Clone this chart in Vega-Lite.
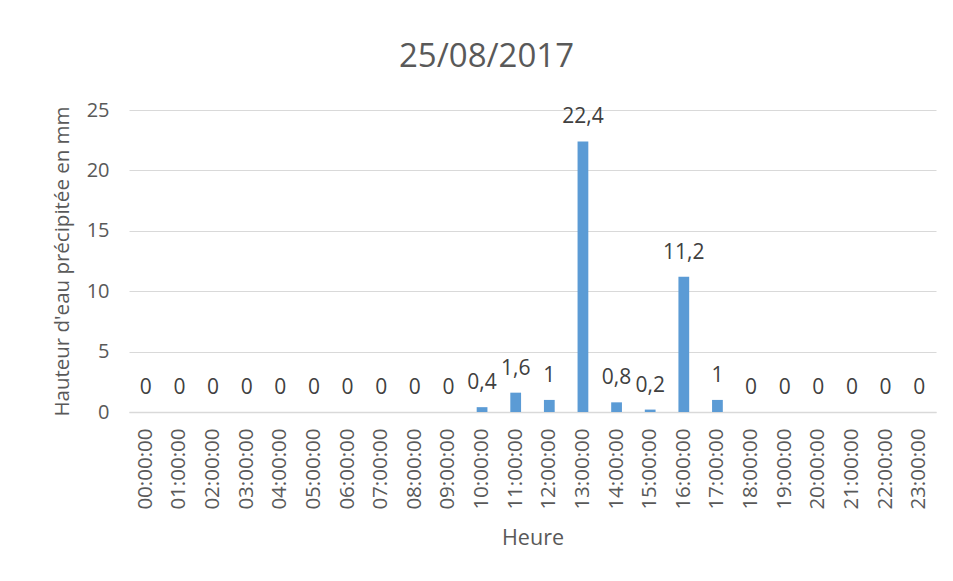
{
  "$schema": "https://vega.github.io/schema/vega-lite/v6.json",
  "width": 807,
  "height": 302,
  "autosize": {"type": "none"},
  "padding": {"left": 129, "top": 110, "right": 17, "bottom": 169},
  "background": "white",
  "title": {
    "text": "25/08/2017",
    "fontSize": 33,
    "font": "Open Sans",
    "fontWeight": "normal",
    "color": "#595959",
    "anchor": "middle",
    "dx": -46,
    "offset": 26
  },
  "config": {
    "locale": {
      "number": {"decimal": ",", "thousands": " ", "grouping": [3], "currency": ["", " €"]}
    },
    "view": {"stroke": null},
    "font": "Open Sans"
  },
  "data": {
    "values": [
      {"heure": "00:00:00", "mm": 0},
      {"heure": "01:00:00", "mm": 0},
      {"heure": "02:00:00", "mm": 0},
      {"heure": "03:00:00", "mm": 0},
      {"heure": "04:00:00", "mm": 0},
      {"heure": "05:00:00", "mm": 0},
      {"heure": "06:00:00", "mm": 0},
      {"heure": "07:00:00", "mm": 0},
      {"heure": "08:00:00", "mm": 0},
      {"heure": "09:00:00", "mm": 0},
      {"heure": "10:00:00", "mm": 0.4},
      {"heure": "11:00:00", "mm": 1.6},
      {"heure": "12:00:00", "mm": 1},
      {"heure": "13:00:00", "mm": 22.4},
      {"heure": "14:00:00", "mm": 0.8},
      {"heure": "15:00:00", "mm": 0.2},
      {"heure": "16:00:00", "mm": 11.2},
      {"heure": "17:00:00", "mm": 1},
      {"heure": "18:00:00", "mm": 0},
      {"heure": "19:00:00", "mm": 0},
      {"heure": "20:00:00", "mm": 0},
      {"heure": "21:00:00", "mm": 0},
      {"heure": "22:00:00", "mm": 0},
      {"heure": "23:00:00", "mm": 0}
    ]
  },
  "encoding": {
    "x": {
      "field": "heure",
      "type": "nominal",
      "sort": null,
      "scale": {"paddingInner": 0.68, "paddingOuter": 0.34},
      "axis": {
        "title": "Heure",
        "titleFontSize": 21.5,
        "titleFontWeight": "normal",
        "titleColor": "#595959",
        "titlePadding": 18,
        "labelAngle": -90,
        "labelFontSize": 20.5,
        "labelColor": "#595959",
        "labelPadding": 16,
        "ticks": false,
        "domainColor": "#d9d9d9",
        "domainWidth": 1.5
      }
    },
    "y": {
      "field": "mm",
      "type": "quantitative",
      "scale": {"domain": [0, 25]},
      "axis": {
        "title": "Hauteur d'eau précipitée en mm",
        "titleFontSize": 20.5,
        "titleFontWeight": "normal",
        "titleColor": "#595959",
        "titlePadding": 14,
        "values": [0, 5, 10, 15, 20, 25],
        "labelFontSize": 20,
        "labelColor": "#595959",
        "labelPadding": 20,
        "ticks": false,
        "domain": false,
        "gridColor": "#d9d9d9",
        "gridWidth": 1
      }
    }
  },
  "layer": [
    {"mark": {"type": "bar", "color": "#5B9BD5"}},
    {
      "mark": {"type": "text", "baseline": "alphabetic", "dy": -18, "fontSize": 21, "color": "#404040"},
      "encoding": {"text": {"field": "mm", "type": "quantitative", "format": ".1~f"}}
    }
  ]
}
